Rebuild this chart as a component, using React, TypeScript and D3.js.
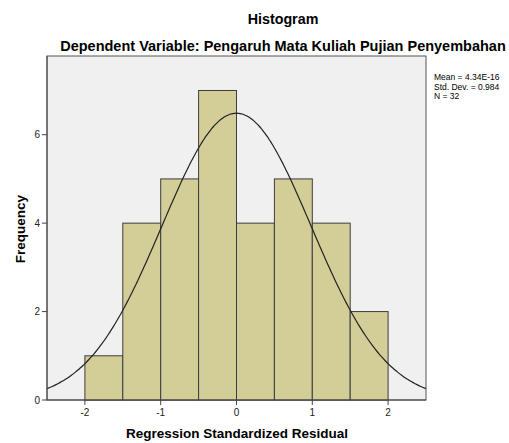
import React from "react";
import * as d3 from "d3";

const binStarts = [-2, -1.5, -1, -0.5, 0, 0.5, 1, 1.5];
const binWidth = 0.5;
const counts = [1, 4, 5, 7, 4, 5, 4, 2];
const xTicks = [-2, -1, 0, 1, 2];
const yTicks = [0, 2, 4, 6];
const meanVal = 4.34e-16;
const sdVal = 0.984;
const nVal = 32;
const statsLines = ["Mean = 4.34E-16", "Std. Dev. = 0.984", "N = 32"];

const W = 509, H = 443;
const L = 47, R = 426, T = 56, B = 400;
const font = "'Liberation Sans', Arial, sans-serif";

export default function App() {
  const x = d3.scaleLinear().domain([-2.5, 2.5]).range([L, R]);
  const y = d3.scaleLinear().domain([0, 7.78]).range([B, T]);
  const pdf = (v: number) =>
    (nVal * binWidth * Math.exp(-0.5 * ((v - meanVal) / sdVal) ** 2)) / (sdVal * Math.sqrt(2 * Math.PI));
  const pts = d3.range(0, 201).map((i) => -2.5 + (5 * i) / 200);
  const line = d3.line<number>().x((v) => x(v)).y((v) => y(pdf(v))).curve(d3.curveBasis);

  return (
    <svg width={W} height={H} style={{ position: "absolute", left: 0, top: 0, display: "block" }} fontFamily={font}>
      <rect x={0} y={0} width={W} height={H} fill="#fff" />
      <text x={283} y={24} textAnchor="middle" fontSize={14.3} fontWeight="bold" fill="#000">Histogram</text>
      <text x={283} y={51} textAnchor="middle" fontSize={14.5} fontWeight="bold" fill="#000">
        Dependent Variable: Pengaruh Mata Kuliah Pujian Penyembahan
      </text>
      <rect x={L} y={T} width={R - L} height={B - T} fill="#f0f0f0" stroke="#555" strokeWidth={1} />
      {counts.map((c, i) => (
        <rect
          key={i}
          x={x(binStarts[i])}
          y={y(c)}
          width={x(binStarts[i] + binWidth) - x(binStarts[i])}
          height={y(0) - y(c)}
          fill="#d3ce98"
          stroke="#3c3c3c"
          strokeWidth={1}
        />
      ))}
      <path d={line(pts) || ""} fill="none" stroke="#222" strokeWidth={1.2} />
      <line x1={L} x2={R} y1={B} y2={B} stroke="#444" />
      <line x1={L} x2={L} y1={T} y2={B} stroke="#444" />
      {yTicks.map((t) => (
        <g key={t}>
          <line x1={L - 5} x2={L} y1={y(t)} y2={y(t)} stroke="#444" />
          <text x={L - 7} y={y(t) + 3.5} textAnchor="end" fontSize={10} fill="#222">{t}</text>
        </g>
      ))}
      {xTicks.map((t) => (
        <g key={t}>
          <line x1={x(t)} x2={x(t)} y1={B} y2={B + 5} stroke="#444" />
          <text x={x(t)} y={B + 16} textAnchor="middle" fontSize={10} fill="#222">{t}</text>
        </g>
      ))}
      <text x={237} y={438} textAnchor="middle" fontSize={13.5} fontWeight="bold" fill="#000">
        Regression Standardized Residual
      </text>
      <text transform={`translate(25,${(T + B) / 2 + 1}) rotate(-90)`} textAnchor="middle" fontSize={13.5} fontWeight="bold" fill="#000">
        Frequency
      </text>
      {statsLines.map((s, i) => (
        <text key={i} x={434} y={80 + i * 9.6} fontSize={8.5} fill="#000">{s}</text>
      ))}
    </svg>
  );
}
